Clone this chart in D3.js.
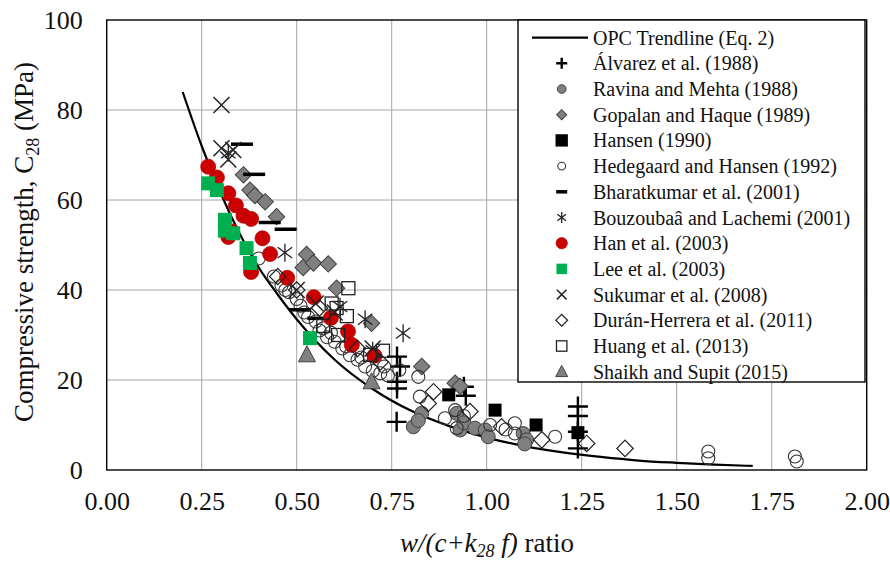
<!DOCTYPE html>
<html>
<head>
<meta charset="utf-8">
<script src="https://cdn.jsdelivr.net/npm/d3@7"></script>
<style>
  html, body { margin: 0; padding: 0; background: #fff; }
  svg { display: block; font-family: "Liberation Serif", "Times New Roman", serif; }
</style>
</head>
<body>
<svg id="chart" width="890" height="563"></svg>
<script>
// ---- Data: [w/(c+k28 f), C28 in MPa] ----
const trendline = [[0.20,84],[0.25,72],[0.30,61.5],[0.35,52.5],[0.40,45],[0.45,39],[0.50,33.5],
  [0.60,24.5],[0.70,18],[0.80,13.2],[0.90,9.8],[1.00,7.2],[1.10,5.3],[1.20,3.9],[1.30,2.9],
  [1.40,2.1],[1.50,1.6],[1.60,1.2],[1.70,0.9]];
const alvarez = [[0.764,25.2],[0.772,23],[0.764,19.6],[0.764,18.1],[0.763,10.7],[0.94,18.5],
  [0.945,16.5],[1.24,14.1],[1.24,12],[1.24,8.5],[1.24,4.8]];
const ravina = [[0.807,9.6],[0.829,12.6],[0.82,11],[0.921,12.6],[0.93,8.9],[0.94,10.5],
  [0.969,9.3],[0.996,8.9],[1.004,7.4],[1.096,8.1],[1.105,6.7],[1.1,5.8]];
const gopalan = [[0.36,65.6],[0.377,62.2],[0.39,61],[0.417,59.6],[0.447,56.3],[0.526,47.9],
  [0.517,45],[0.544,46],[0.583,45.8],[0.605,40.4],[0.697,32.6],[0.829,23],[0.917,19.3],[0.93,18.6]];
const hansen = [[0.9,16.7],[1.022,13.3],[1.13,10],[1.24,8.3]];
const hedegaard = [[0.40,47],[0.44,43],[0.46,41],[0.48,39.5],[0.50,38],[0.51,36.5],[0.53,34],
  [0.55,33],[0.57,31.5],[0.58,29.5],[0.60,28.5],[0.62,27],[0.64,25.5],[0.66,24.5],[0.68,23],
  [0.70,22],[0.73,23],[0.74,21],[0.77,22.2],[0.82,20.7],[0.824,16.3],[0.917,13.3],[0.921,9.3],
  [0.94,12],[1.009,10],[1.074,10.4],[1.074,8.1],[1.18,7.4],[1.583,4.1],[1.583,2.6],[1.811,3],[1.816,1.9],
  [0.47,40],[0.52,35],[0.56,31],[0.59,30.5],[0.63,27.5],[0.67,25],[0.72,21.5],[0.89,11.5],[1.05,9]];
const bharatkumar = [[0.356,72.4],[0.388,65.7],[0.429,55],[0.471,53.5],[0.509,35.6],[0.557,33.7]];
const bouzoubaa = [[0.32,70.5],[0.469,48.3],[0.614,36.3],[0.68,33.5],[0.70,26.5],[0.78,30.4]];
const han = [[0.267,67.4],[0.29,65],[0.32,61.5],[0.34,58.8],[0.32,51.8],[0.36,56.5],[0.38,55.8],
  [0.41,51.5],[0.43,48],[0.38,44],[0.475,42.7],[0.545,38.4],[0.59,33.8],[0.635,30.8],[0.645,27.8],
  [0.705,25.4],[0.33,53]];
const lee = [[0.267,63.7],[0.29,62.2],[0.311,55.6],[0.311,53.2],[0.333,52.6],[0.368,49.3],
  [0.377,46],[0.535,29.3]];
const sukumar = [[0.302,81.1],[0.302,71.5],[0.333,71.1],[0.32,69],[0.50,40],[0.55,37],[0.60,35],[0.70,27]];
const duran = [[0.45,43],[0.50,40],[0.56,36],[0.66,27],[0.72,24],[0.86,17.4],[0.846,14.8],
  [0.956,13],[1.039,9.6],[1.145,6.7],[1.263,5.9],[1.364,4.8]];
const huang = [[0.592,37],[0.605,36],[0.636,40.4],[0.632,34.2],[0.609,30],[0.693,25.6],[0.727,26.5],[0.57,32]];
const shaikh = [[0.527,25.6],[0.697,19.6]];

const xTicks = [0, 0.25, 0.5, 0.75, 1, 1.25, 1.5, 1.75, 2];
const yTicks = [0, 20, 40, 60, 80, 100];

const seriesNames = ["Álvarez et al. (1988)", "Ravina and Mehta (1988)", "Gopalan and Haque (1989)",
  "Hansen (1990)", "Hedegaard and Hansen (1992)", "Bharatkumar et al. (2001)",
  "Bouzoubaâ and Lachemi (2001)", "Han et al. (2003)", "Lee et al. (2003)",
  "Sukumar et al. (2008)", "Durán-Herrera et al. (2011)", "Huang et al. (2013)",
  "Shaikh and Supit (2015)"];
const seriesData = [alvarez, ravina, gopalan, hansen, hedegaard, bharatkumar, bouzoubaa,
  han, lee, sukumar, duran, huang, shaikh];
const seriesMarker = ["plus", "grayCircle", "grayDiamond", "blackSquare", "openCircle", "dash",
  "asterisk", "redCircle", "greenSquare", "cross", "openDiamond", "openSquare", "grayTriangle"];
// legend marker scale per series
const legendScale = [0.55, 0.62, 0.62, 0.95, 0.6, 0.5, 0.6, 0.75, 0.75, 0.6, 0.72, 0.8, 0.7];

// ---- Layout ----
const svg = d3.select("#chart");
const x = d3.scaleLinear().domain([0, 2]).range([106.7, 866.7]);
const y = d3.scaleLinear().domain([0, 100]).range([470, 20]);

// grid
const grid = svg.append("g").attr("stroke", "#a6a6a6").attr("stroke-width", 1);
grid.selectAll("line.v").data(xTicks.slice(1, -1)).join("line")
  .attr("x1", d => x(d)).attr("x2", d => x(d)).attr("y1", y(0)).attr("y2", y(100));
grid.selectAll("line.h").data(yTicks.slice(1, -1)).join("line")
  .attr("x1", x(0)).attr("x2", x(2)).attr("y1", d => y(d)).attr("y2", d => y(d));

// ---- Marker drawing ----
function drawMarker(g, type, s) {
  switch (type) {
    case "plus":
      g.append("path").attr("d", `M${-10*s},0H${10*s}M0,${-10*s}V${10*s}`)
        .attr("stroke", "#000").attr("stroke-width", 2.4).attr("fill", "none");
      break;
    case "grayCircle":
      g.append("circle").attr("r", 7*s).attr("fill", "#808080").attr("stroke", "#404040").attr("stroke-width", 1);
      break;
    case "grayDiamond":
      g.append("rect").attr("x", -5.8*s).attr("y", -5.8*s).attr("width", 11.6*s).attr("height", 11.6*s)
        .attr("transform", "rotate(45)").attr("fill", "#808080").attr("stroke", "#404040").attr("stroke-width", 1);
      break;
    case "blackSquare":
      g.append("rect").attr("x", -6.5*s).attr("y", -6.5*s).attr("width", 13*s).attr("height", 13*s)
        .attr("fill", "#000");
      break;
    case "openCircle":
      g.append("circle").attr("r", 6.5*s).attr("fill", "none").attr("stroke", "#333").attr("stroke-width", 1.1);
      break;
    case "dash":
      g.append("path").attr("d", `M${-11*s},0H${11*s}`).attr("stroke", "#000").attr("stroke-width", 3.5);
      break;
    case "asterisk": {
      const r = 9*s, d = r*0.8;
      g.append("path").attr("d", `M0,${-r}V${r}M${-d},${-d*0.75}L${d},${d*0.75}M${-d},${d*0.75}L${d},${-d*0.75}`)
        .attr("stroke", "#222").attr("stroke-width", 1.3).attr("fill", "none");
      break;
    }
    case "redCircle":
      g.append("circle").attr("r", 7.5*s).attr("fill", "#cc0000").attr("stroke", "#b00000").attr("stroke-width", 0.8);
      break;
    case "greenSquare":
      g.append("rect").attr("x", -7*s).attr("y", -7*s).attr("width", 14*s).attr("height", 14*s)
        .attr("fill", "#00b050");
      break;
    case "cross":
      g.append("path").attr("d", `M${-8*s},${-8*s}L${8*s},${8*s}M${-8*s},${8*s}L${8*s},${-8*s}`)
        .attr("stroke", "#222").attr("stroke-width", 1.5).attr("fill", "none");
      break;
    case "openDiamond":
      g.append("rect").attr("x", -5.8*s).attr("y", -5.8*s).attr("width", 11.6*s).attr("height", 11.6*s)
        .attr("transform", "rotate(45)").attr("fill", "none").attr("stroke", "#222").attr("stroke-width", 1.2);
      break;
    case "openSquare":
      g.append("rect").attr("x", -6.5*s).attr("y", -6.5*s).attr("width", 13*s).attr("height", 13*s)
        .attr("fill", "none").attr("stroke", "#222").attr("stroke-width", 1.3);
      break;
    case "grayTriangle":
      g.append("path").attr("d", `M0,${-9*s}L${8.5*s},${7*s}L${-8.5*s},${7*s}Z`)
        .attr("fill", "#808080").attr("stroke", "#404040").attr("stroke-width", 1);
      break;
  }
}

// trendline (under the markers)
const line = d3.line().x(d => x(d[0])).y(d => y(d[1])).curve(d3.curveMonotoneX);
svg.append("path").datum(trendline).attr("d", line)
  .attr("fill", "none").attr("stroke", "#000").attr("stroke-width", 2.2);

// markers
const marks = svg.append("g");
seriesData.forEach((data, i) => {
  const sg = marks.append("g");
  data.forEach(d => {
    const g = sg.append("g").attr("transform", `translate(${x(d[0])},${y(d[1])})`);
    drawMarker(g, seriesMarker[i], 1);
  });
});

// plot frame
svg.append("rect").attr("x", x(0)).attr("y", y(100)).attr("width", x(2) - x(0)).attr("height", y(0) - y(100))
  .attr("fill", "none").attr("stroke", "#000").attr("stroke-width", 1.4);

// ---- Axes ----
const xAxis = svg.append("g").attr("transform", `translate(0,${y(0)})`)
  .call(d3.axisBottom(x).tickValues(xTicks).tickSize(0).tickPadding(22).tickFormat(d3.format(".2f")));
const yAxis = svg.append("g").attr("transform", `translate(${x(0)},0)`)
  .call(d3.axisLeft(y).tickValues(yTicks).tickSize(0).tickPadding(24).tickFormat(d3.format("d")));
[xAxis, yAxis].forEach(a => {
  a.select(".domain").remove();
  a.attr("font-family", null).attr("font-size", null);
  a.selectAll("text").attr("font-family", "Liberation Serif, serif").attr("font-size", 26).attr("fill", "#111");
});

// y title
const yt = svg.append("text").attr("transform", "translate(33,242) rotate(-90)")
  .attr("text-anchor", "middle").attr("font-size", 27).attr("fill", "#111");
yt.append("tspan").text("Compressive strength, C");
yt.append("tspan").attr("font-size", 18).attr("dy", 6).text("28");
yt.append("tspan").attr("dy", -6).text(" (MPa)");

// x title
const xt = svg.append("text").attr("x", 487).attr("y", 552).attr("text-anchor", "middle")
  .attr("font-size", 27).attr("fill", "#111");
xt.append("tspan").attr("font-style", "italic").text("w/(c+k");
xt.append("tspan").attr("font-style", "italic").attr("font-size", 18).attr("dy", 5).text("28");
xt.append("tspan").attr("font-style", "italic").attr("dy", -5).text(" f)");
xt.append("tspan").text(" ratio");

// ---- Legend ----
const lg = svg.append("g");
lg.append("rect").attr("x", 518).attr("y", 20).attr("width", 347).attr("height", 362)
  .attr("fill", "#fff").attr("stroke", "#000").attr("stroke-width", 1.4);
const rowY = i => 37.6 + i * 25.7;
lg.append("line").attr("x1", 532).attr("x2", 588).attr("y1", rowY(0)).attr("y2", rowY(0))
  .attr("stroke", "#000").attr("stroke-width", 2.2);
lg.append("text").attr("x", 593).attr("y", rowY(0)).attr("dy", "0.35em")
  .attr("font-size", 20).attr("fill", "#111").text("OPC Trendline (Eq. 2)");
seriesNames.forEach((name, i) => {
  const g = lg.append("g").attr("transform", `translate(561.7,${rowY(i + 1)})`);
  drawMarker(g, seriesMarker[i], legendScale[i]);
  lg.append("text").attr("x", 593).attr("y", rowY(i + 1)).attr("dy", "0.35em")
    .attr("font-size", 20).attr("fill", "#111").text(name);
});
</script>
</body>
</html>
